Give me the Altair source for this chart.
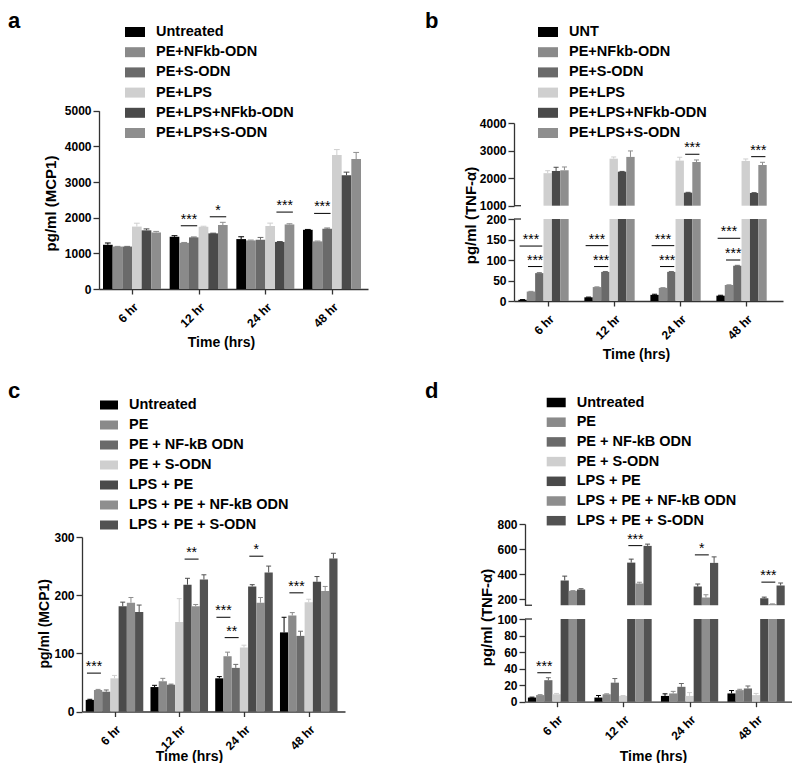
import altair as alt
import pandas as pd

FONT = "Liberation Sans"
W, H = 784, 755

times = ["6 hr", "12 hr", "24 hr", "48 hr"]

# ---------------- panel a : MCP1 ----------------
a_series = ["Untreated", "PE+NFkb-ODN", "PE+S-ODN", "PE+LPS", "PE+LPS+NFkb-ODN", "PE+LPS+S-ODN"]
a_colors = ["#000000", "#8a8a8a", "#6a6a6a", "#cfcfcf", "#4a4a4a", "#8e8e8e"]
a_mean = [
    [1240, 1465, 1400, 1660],
    [1190, 1295, 1362, 1335],
    [1190, 1448, 1381, 1689],
    [1750, 1745, 1767, 3755],
    [1645, 1560, 1320, 3187],
    [1585, 1795, 1810, 3645],
]
a_sem = [
    [50, 30, 65, 10],
    [5, 10, 10, 10],
    [5, 10, 65, 20],
    [95, 15, 80, 155],
    [40, 5, 10, 90],
    [30, 75, 20, 185],
]
a_sig = [(1, 1, 2, 1773, "***"), (1, 4, 5, 2025, "*"), (2, 4, 5, 2157, "***"), (3, 1, 2, 2120, "***")]

# ---------------- panel b : TNF-alpha ----------------
b_series = ["UNT", "PE+NFkb-ODN", "PE+S-ODN", "PE+LPS", "PE+LPS+NFkb-ODN", "PE+LPS+S-ODN"]
b_colors = a_colors
b_mean = [
    [3, 9, 15, 13],
    [23, 34, 32, 39],
    [68, 71, 71, 86],
    [2180, 2706, 2635, 2623],
    [2260, 2234, 1473, 1462],
    [2285, 2770, 2586, 2477],
]
b_sem = [
    [0.5, 0.5, 1.5, 1],
    [0.5, 0.5, 0.5, 0.5],
    [1, 1, 1, 1],
    [90, 62, 122, 72],
    [134, 10, 12, 10],
    [120, 216, 73, 98],
]
b_sig_low = [(0, 0, 2, 134, "***"), (0, 1, 2, 84, "***"), (1, 0, 2, 135, "***"), (1, 1, 2, 84, "***"),
             (2, 0, 2, 135, "***"), (2, 1, 2, 84, "***"), (3, 0, 2, 153, "***"), (3, 1, 2, 100, "***")]
b_sig_up = [(2, 4, 5, 2866, "***"), (3, 4, 5, 2779, "***")]

# ---------------- panel c : MCP1 ----------------
cd_series = ["Untreated", "PE", "PE + NF-kB ODN", "PE + S-ODN", "LPS + PE",
             "LPS + PE + NF-kB ODN", "LPS + PE + S-ODN"]
cd_colors = ["#000000", "#8a8a8a", "#6a6a6a", "#cfcfcf", "#4a4a4a", "#8e8e8e", "#525252"]
c_mean = [
    [20, 42, 57, 136],
    [37, 52, 95, 165],
    [34, 46, 75, 130],
    [57, 154, 110, 188],
    [181, 218, 215, 223],
    [187, 181, 187, 207],
    [171, 227, 239, 263],
]
c_sem = [
    [1, 3, 3, 26],
    [1, 5, 7, 5],
    [3, 1, 6, 8],
    [5, 40, 4, 5],
    [7, 11, 3, 9],
    [9, 3, 9, 8],
    [12, 8, 11, 9],
]
c_sig = [(0, 0, 1, 66, "***"), (1, 4, 5, 262, "**"), (2, 0, 1, 162, "***"), (2, 1, 2, 127, "**"),
         (2, 4, 5, 267, "*"), (3, 1, 2, 204, "***")]

# ---------------- panel d : TNF-alpha ----------------
d_mean = [
    [5, 5, 7, 10],
    [8, 9, 10, 14],
    [26, 23, 18, 16],
    [9, 7, 7, 8],
    [348, 491, 300, 206],
    [265, 324, 212, 159],
    [276, 625, 489, 308],
]
d_sem = [
    [0.5, 2.5, 2.5, 3.5],
    [0.5, 0.5, 2.5, 1],
    [3, 5, 4, 3],
    [1, 0.5, 4, 2],
    [35, 28, 20, 9],
    [2, 10, 22, 2],
    [6, 14, 48, 20],
]
d_sig_low = [(0, 1, 2, 35, "***")]
d_sig_up = [(1, 4, 5, 627, "***"), (2, 4, 5, 553, "*"), (3, 4, 5, 335, "***")]

LABEL_EXPR = "[" + ",".join("'%s'" % t for t in times) + "][datum.value]"
AXIS_COLOR = "#333333"


def x_axis(offset, tx, ty):
    return alt.Axis(orient="bottom", offset=offset, values=list(range(len(times))),
                    labelExpr=LABEL_EXPR, labelAngle=315, labelAlign="right",
                    labelBaseline="top", labelPadding=7, labelFontSize=12,
                    labelFlush=False, labelOverlap=False, tickSize=5, grid=False,
                    title="Time (hrs)", titleX=tx, titleY=ty, titleAlign="center",
                    titleBaseline="alphabetic", titleFontSize=14)


def y_axis(values, offset, title=None, tx=0, ty=0, tsize=15):
    kw = dict(orient="left", offset=offset, values=values, format="d", grid=False,
              tickSize=6, labelPadding=2, labelFontSize=12, labelFlush=False,
              labelOverlap=False)
    if title:
        kw.update(title=title, titleX=tx, titleY=ty, titleAngle=270, titleAlign="center",
                  titleBaseline="middle", titleFontSize=tsize)
    else:
        kw["title"] = None
    return alt.Axis(**kw)


def legend(x, y, sym, row):
    return alt.Legend(orient="none", legendX=x, legendY=y, title=None,
                      symbolType="M-1,-0.5H1V0.5H-1Z", symbolSize=sym, symbolStrokeWidth=0,
                      symbolOpacity=1, labelFont=FONT, labelFontSize=14.5,
                      labelFontWeight="bold", labelColor="black", labelOffset=11,
                      labelLimit=400, rowPadding=row, padding=0)


def panel(series, colors, mean, sem, sig, geo, ydom, yrange, yaxis, xaxis, leg,
          clamp=False, brk=None):
    n = len(series)
    mid = (n - 1) / 2
    shift, bw = geo["shift"], geo["bw"]
    rows = [dict(t=t, s=s, series=name, v=mean[s][t], e=sem[s][t])
            for s, name in enumerate(series) for t in range(len(times))]
    df = pd.DataFrame(rows)
    xs = alt.Scale(domain=geo["xdom"], range=geo["xrange"], nice=False, zero=False)
    ys = alt.Scale(domain=ydom, range=yrange, nice=False, zero=False, clamp=clamp)

    def X(f):
        return alt.X(f, type="quantitative", scale=xs, axis=xaxis)

    def Y(f):
        return alt.Y(f, type="quantitative", scale=ys, axis=yaxis)

    cscale = alt.Scale(domain=series, range=colors)
    base = (alt.Chart(df)
            .transform_calculate(xc=f"datum.t + ({shift}) + (datum.s - {mid}) * {bw}")
            .transform_calculate(bl=f"datum.xc - {bw / 2}")
            .transform_calculate(br=f"datum.xc + {bw / 2}")
            .transform_calculate(cl=f"datum.xc - {bw * 0.3}")
            .transform_calculate(cr=f"datum.xc + {bw * 0.3}")
            .transform_calculate(top="datum.v + datum.e"))
    bars = base.transform_filter(f"datum.v > {ydom[0]}").mark_bar().encode(
        x=X("bl"), x2="br", y=Y("v"), y2=alt.datum(ydom[0]),
        color=alt.Color("series:N", scale=cscale, legend=leg))
    err = base.transform_filter(
        f"datum.e > 0 && datum.v > {ydom[0]} && datum.top < {ydom[1]}")
    stroke = alt.Stroke("series:N", scale=cscale, legend=None)
    ev = err.mark_rule(strokeWidth=1).encode(x=X("xc"), y=Y("v"), y2="top", stroke=stroke)
    ec = err.mark_rule(strokeWidth=1).encode(x=X("cl"), x2="cr", y=Y("top"), stroke=stroke)
    layers = [bars, ev, ec]
    if sig:
        sdf = pd.DataFrame(sig, columns=["t", "i", "j", "y", "lab"])
        sb = (alt.Chart(sdf)
              .transform_calculate(xl=f"datum.t + ({shift}) + (datum.i - {mid}) * {bw} - {0.35 * bw}")
              .transform_calculate(xr=f"datum.t + ({shift}) + (datum.j - {mid}) * {bw} + {0.35 * bw}")
              .transform_calculate(xm="(datum.xl + datum.xr) / 2"))
        layers.append(sb.mark_rule(color="black", strokeWidth=1).encode(
            x=X("xl"), x2="xr", y=Y("y")))
        layers.append(sb.mark_text(font=FONT, fontSize=14, dy=-2, baseline="alphabetic",
                                   color="black").encode(x=X("xm"), y=Y("y"), text="lab:N"))
    if brk is not None:
        # short cap marking the axis break, on the inner side of the y axis
        x0 = geo["xrange"][0]
        layers.append(alt.Chart(pd.DataFrame({"k": [0]})).mark_rule(
            color=AXIS_COLOR, strokeWidth=1.3).encode(
            x=alt.value(x0), x2=alt.value(x0 + 7),
            y=alt.YDatum(brk, type="quantitative", scale=ys, axis=yaxis)))
    return alt.layer(*layers)


def letter(ch, x, y):
    return alt.Chart(pd.DataFrame({"l": [ch]})).mark_text(
        font=FONT, fontSize=22, fontWeight="bold", align="left", baseline="alphabetic",
        color="black").encode(x=alt.value(x), y=alt.value(y), text="l:N")


geo_a = dict(xdom=[-0.495, 3.54], xrange=[91, 360], shift=0, bw=0.145)
geo_b = dict(xdom=[-0.515, 3.56], xrange=[506, 775], shift=-0.068, bw=0.127)
geo_c = dict(xdom=[-0.502, 3.56], xrange=[74, 337], shift=0, bw=0.127)
geo_d = dict(xdom=[-0.474, 3.54], xrange=[517, 784], shift=0, bw=0.123)

pa = panel(a_series, a_colors, a_mean, a_sem, a_sig, geo_a, [0, 5000], [281, 102.7],
           y_axis([0, 1000, 2000, 3000, 4000, 5000], -91, "pg/ml (MCP1)", -49, 195),
           x_axis(281 - H, 213, 57), legend(117, 14, 400, 3.2))

pb_up = panel(b_series, b_colors, b_mean, b_sem, b_sig_up, geo_b, [1000, 4000], [197.7, 115],
              y_axis([1000, 2000, 3000, 4000], -506), None, legend(530, 14, 400, 3.2),
              clamp=True, brk=1000)
pb_low = panel(b_series, b_colors, b_mean, b_sem, b_sig_low, geo_b, [0, 200], [293, 211],
               y_axis([0, 50, 100, 150, 200], -506, "pg/ml (TNF-α)", -44, 207),
               x_axis(293 - H, 628, 57), None, clamp=True, brk=200)

pc = panel(cd_series, cd_colors, c_mean, c_sem, c_sig, geo_c, [0, 300], [703.5, 529],
           y_axis([0, 100, 200, 300], -74, "pg/ml (MCP1)", -37.7, 615.3, 14),
           x_axis(703.5 - H, 181, 48.5), legend(92, 388, 324, 4.0))

pd_up = panel(cd_series, cd_colors, d_mean, d_sem, d_sig_up, geo_d, [150, 800], [597.25, 516],
              y_axis([200, 400, 600, 800], -517), None, legend(538.7, 385, 361, 3.7),
              clamp=True, brk=150)
pd_low = panel(cd_series, cd_colors, d_mean, d_sem, d_sig_low, geo_d, [0, 100], [693.7, 611],
               y_axis([0, 20, 40, 60, 80, 100], -517, "pg/ml (TNF-α)", -39, 609),
               x_axis(693.7 - H, 645, 58.3), None, clamp=True, brk=100)

chart = (alt.layer(pa, pb_up, pb_low, pc, pd_up, pd_low,
                   letter("a", 0, 19.5), letter("b", 417, 19.5),
                   letter("c", 0, 390), letter("d", 417, 390))
         .resolve_scale(x="independent", y="independent", color="independent", stroke="independent")
         .resolve_axis(x="independent", y="independent")
         .resolve_legend(color="independent", stroke="independent")
         .properties(width=W, height=H, padding=0, autosize=alt.AutoSizeParams(type="none"))
         .configure_view(stroke=None)
         .configure_axis(domainColor=AXIS_COLOR, tickColor=AXIS_COLOR, domainWidth=1.3, tickWidth=1.3,
                         labelFont=FONT, titleFont=FONT, labelFontWeight="bold",
                         titleFontWeight="bold", labelColor="black", titleColor="black"))

chart.save("out.html", embed_options={"renderer": "svg", "actions": False})
